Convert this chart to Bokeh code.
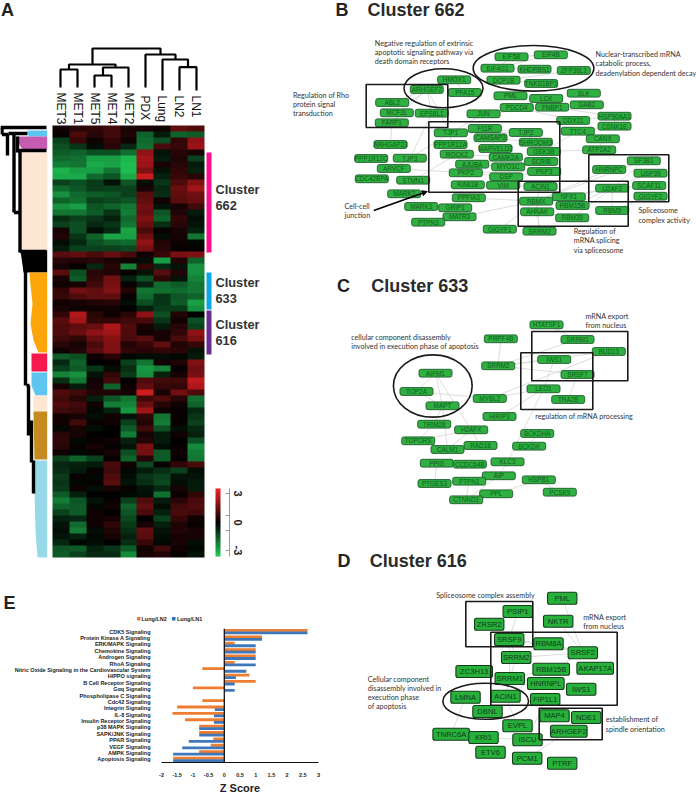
from bokeh.plotting import figure
from bokeh.layouts import column, row
from bokeh.models import (Range1d, FactorRange, LinearColorMapper, FixedTicker,
                          Arrow, NormalHead, ColumnDataSource, Span)
from bokeh.core.properties import value
from bokeh.transform import dodge
from bokeh.embed import file_html
from bokeh.resources import INLINE
import numpy as np

# ---------- Panel A data ----------
samples = ["MET3", "MET1", "MET5", "MET4", "MET2", "PDX", "Lung", "LN2", "LN1"]
heat_rows = [
 [0.2,0.5,0.6,0.8,0.3,0.3,0.2,1.2,1.0],
 [0.1,0.9,0.5,0.8,0.4,-1.5,-0.4,-1.5,-1.4],
 [-1,0.7,0.2,0.6,0.2,-1.6,-1.2,0.6,1.8],
 [-1.2,-0.8,-0.2,0.5,-0.6,-1.7,0.9,0.7,1.9],
 [-1.4,-1.5,-1.2,-1.2,-1.7,1.8,-0.3,0.5,0.3],
 [-1.6,-1.7,-2.4,-2.4,-2.8,2.0,-0.4,0.4,-1.0],
 [-1.9,-1.8,-2.6,-2.5,-2.9,1.9,0.3,0.5,-0.4],
 [-2.7,-2.4,-2.4,-1.8,-2.9,1.6,-0.3,0.6,-0.5],
 [-2.6,-2.6,-1.6,-1.3,-2.6,2.5,-0.5,0.7,0.5],
 [-1,-1.2,-0.9,-0.3,-1.3,-0.2,-0.8,1.0,1.6],
 [-1.6,-1.3,-0.9,-1,-1,0.3,-0.6,1.3,2.0],
 [-2.2,-1.6,-1.4,-1.3,-1,1.1,-0.7,1.2,1.4],
 [-1.5,-1.7,-1,-1.1,-1.3,1.2,0.2,1.1,1.3],
 [-2.2,-2.4,-1.3,-1.5,-1.8,1.4,-0.3,0.3,0.8],
 [-1.8,-1.8,-1.4,-0.8,-1.9,1.3,-1.3,0.4,-0.4],
 [-0.7,-1,-0.8,-0.5,-1.6,1.6,-1.5,0.6,-0.2],
 [-1,-1.2,-0.6,-0.8,-1.8,1.3,-0.7,0.5,-0.3],
 [0.3,-1.2,-0.2,-0.6,-2.5,0.9,0.1,0.3,-0.5],
 [0.4,-0.8,-1.5,-2.5,-2.4,1.4,-0.2,0.3,-1.8],
 [-0.2,-0.6,-1.2,-1.5,-1.6,1.8,0.4,0.2,-0.1],
 [-0.4,-1,-1,-1,-1.1,1.5,0.5,0.1,0.1],
 [1.1,1.2,0.9,1.3,0.9,0.2,0.7,1.5,1.6],
 [0.5,0.4,0.5,0.3,0.2,-0.2,-2.4,0.4,-1.5],
 [0.3,0.1,-0.6,0.5,-2,0.6,-0.6,-0.3,-2.2],
 [1.1,-1.2,0.5,0.4,0.1,-0.3,1.1,0.4,-2.2],
 [0.3,-1.4,0.6,1.4,-0.5,-1.2,0.6,-0.3,-2],
 [0.2,0.3,0.8,1.5,0.1,-0.5,-1.6,-1.4,-1.8],
 [0.6,1.4,1.2,1.6,0.4,-1.8,-1.7,-1.6,-1.8],
 [0.7,1,1.2,1.2,0.1,-1.6,-0.8,-1.3,-1.5],
 [0.2,0.3,0.4,0.5,-0.2,-1.2,-0.8,-1.4,-2.4],
 [0.3,0.2,0.2,0.2,0,-0.5,-0.9,-0.9,-2.2],
 [0.6,2.2,0.5,0.2,0.5,1.8,-1.2,0.4,0],
 [1.1,2,0.6,0.6,0.8,0.9,-0.8,0.2,-1.2],
 [1,1.2,1.3,2.2,1,0.3,-0.4,0.5,-1],
 [1,1.3,1.8,2,1,0.2,0.3,0.6,1.8],
 [0.8,0.6,1.3,1.7,0.9,1.1,0.3,0.9,1.5],
 [0.5,0.3,0.9,1.6,0.4,0.7,1.2,0.4,0.7],
 [0.2,0.4,1.1,1.6,0.6,0.5,0.6,0.5,-0.3],
 [-1.4,-1.2,0.2,0.5,-0.1,-0.2,-0.2,-0.1,-0.4],
 [-0.6,-1.5,0,0.1,-1,-1.8,0.2,0.4,1.6],
 [-1,-1.4,-0.8,-0.2,-0.7,-2.3,-2,0.1,1.4],
 [-2,-2.2,-0.3,0.6,-0.9,-2.2,-0.5,0.3,1.5],
 [-0.7,-1.8,0.2,0.8,0,1.0,0.8,0.8,2.4],
 [0.3,-0.4,0.3,-1.5,0.2,1.2,0.7,0.6,2.2],
 [1,0.8,0.4,0.4,0.3,2.6,0.3,1.4,1],
 [0.8,0.5,-0.5,-1.3,-1.8,0.8,1,0.5,-1.7],
 [1,0.8,0.2,-1.9,-2,1.3,0.5,0.2,-1.5],
 [0.8,0.7,-0.1,-0.5,-2.3,2,0.2,0.1,-0.6],
 [0.2,0.3,-0.2,0.2,-0.3,0.6,-1.8,0.1,-0.8],
 [0.2,0.8,0.1,0.2,-1,0.4,-1.9,0.1,-1],
 [-0.1,0.3,-0.2,0,-1.4,0.8,-1.2,-0.2,-0.6],
 [0.5,0.3,0,0,-1.9,0.3,-0.4,0.2,-0.5],
 [0.6,-0.1,0.1,0.2,-0.5,0.4,-0.4,0,-1.2],
 [0.5,0.1,0.3,0.1,-0.3,1.5,-0.2,0.1,-2.1],
 [0.2,-0.1,0.1,0.3,-1.2,1.4,-1.4,0.2,-1.9],
 [-1,-1.5,-1,0.1,-1.5,0.5,-1.4,0.1,-1.8],
 [-0.6,-0.5,-0.4,0.9,0.2,-1.1,0.1,0.6,0.9],
 [-0.7,-0.4,0.1,0.8,-0.1,-0.4,-0.7,-1,-0.2],
 [-0.9,0.1,-0.1,1.0,-0.2,-0.8,-1,-0.3,-0.3],
 [-0.8,-0.1,0.1,1.1,-0.3,-0.7,-1.1,-0.2,-0.4],
 [-0.9,0.2,-0.2,0.3,0.1,-0.3,-0.6,0.3,-0.4],
 [-1.4,-0.5,0,0,-0.1,-0.2,-1.7,0.1,0.6],
 [-1.9,-1.3,-0.3,0.1,-1,1,-0.4,0.5,0.9],
 [-1.5,-1.4,-0.1,0.2,-1.5,1.2,-0.2,0.8,1],
 [-1,-1.4,0.2,0,-1.3,0.9,-0.5,0.9,0.8],
 [-0.5,-0.6,0.2,0.3,-1.1,0,-1,0.7,0.2],
 [-0.3,-1.6,0.2,0.6,-0.9,0.3,-0.5,0.4,0.1],
 [-0.2,-1.9,-0.2,0.4,-0.7,1.2,-0.3,0.4,0.3],
 [-0.3,-0.5,-0.1,0.3,-0.5,1.1,-0.2,0.3,0.3],
 [-0.6,-0.1,-0.2,0,-0.7,0.7,-0.1,0.3,-0.2],
 [-1.3,-1.4,-0.5,-0.8,-1.4,0.2,0.8,0.2,-0.1],
 [-1.4,-1,-0.6,-0.6,-2.1,0.3,0.4,0.1,-0.3],
]
legend_steps = [3, 2.75, 2.5, 2.25, 2, 1.75, 1.5, 1.25, 1, 0.75, 0.5, 0.25, 0,
                -0.25, -0.5, -0.75, -1, -1.25, -1.5, -1.75, -2, -2.25, -2.5, -2.75, -3]

# sample dendrogram segments (x list, y list)
col_dendro_x = [[60,60,77,77],[94,94,111,111],[102.5,102.5,128,128],[68.5,68.5,115,115],
                [179,179,196,196],[162,162,187.5,187.5],[145,145,175,175],[92,92,160,160]]
col_dendro_y = [[87,69,69,87],[87,75,75,87],[75,67,67,87],[69,64,64,67],
                [90,66.7,66.7,90],[90,59,59,66.7],[87,54,54,59],[64,48,48,54]]
# row dendrogram trunks
row_dendro_x = [[0,46],[1.5,1.5],[1.5,8],[7,7],[8,27],[13.5,13.5],[13.5,20],[17,17],[17,46],[19.5,19.5],
                [19.5,46],[25,25],[26,29],[28,28],[31,31],[33,33]]
row_dendro_y = [[127,127],[127,134],[134,134],[134,155],[133,133],[133,212],[212,212],[136,152],[150,150],[150,252],
                [251,251],[262,385],[385,385],[385,435],[420,462],[460,493]]
band_colors = ["#5cc6f0", "#c65bb2", "#fde6d2", "#000000", "#fca60c", "#f5194f", "#5dc5ef", "#fde6d2", "#c58b20", "#97d8e9"]
band_x = [[27,46.7,46.7,28], [16,46.7,46.7,22,18], [20,46.7,46.7,20], [20,46.7,46.7,23], [29,46.7,46.7,38,33,30,32,30],
          [31,46.7,46.7,31], [31,46.7,46.7,35,31], [33,46.7,46.7,33], [33,46.7,46.7,34], [33,46.7,46.7,37,35,34]]
band_y = [[130,130,136,136], [136,136,149,149,143], [152,152,250,250], [250,250,272,272], [272,272,352,352,340,323,303,285],
          [353,353,371,371], [372,372,395,395,385], [395,395,411,411], [411,411,459,459], [460,460,557,557,530,490]]
cluster_spans = [(152, 252, "#ff0f8f"), (272, 309, "#0ca5e8"), (310, 354, "#6a2c91")]
cluster_labels = [("Cluster", 189), ("662", 205), ("Cluster", 282), ("633", 298), ("Cluster", 324), ("616", 340)]

# ---------- Panel E data ----------
pathways = ["CDK5 Signaling","Protein Kinase A Signaling","ERK/MAPK Signaling","Chemokine Signaling","Androgen Signaling",
            "RhoA Signaling","Nitric Oxide Signaling in the Cardiovascular System","HIPPO signaling","B Cell Receptor Signaling",
            "G\u03b1q Signaling","Phospholipase C Signaling","Cdc42 Signaling","Integrin Signaling","IL-8 Signaling",
            "Insulin Receptor Signaling","p38 MAPK Signaling","SAPK/JNK Signaling","PPAR Signaling","VEGF Signaling",
            "AMPK Signaling","Apoptosis Signaling"]
lung_ln2 = [2.65,1.2,0.33,1,1,0.33,-0.7,0.8,1,-1,0,-0.7,-1.5,-1.65,-1.25,-0.8,-0.8,-0.35,-0.43,-0.8,-1.63]
lung_ln1 = [2.65,1.2,1,1,1,1,0.7,0.37,0.33,0.33,0,0,-0.3,-0.33,-0.33,-0.8,-0.8,-1.13,-1.34,-1.63,-1.63]
z_ticks = [-2,-1.5,-1,-0.5,0,0.5,1,1.5,2,2.5,3]
z_tick_labels = ["-2","-1.5","-1","-0.5","0","0.5","1","1.5","2","2.5","3"]
ORANGE, BLUE = "#ed7d31", "#2e6db4"

# ---------- Networks ----------
b_names = ["EIF5B","EIF4B","EIF4G1","KHDRBS1","ZFP36L1","DCP1B","TNKS1BP1","HMOX1","ARHGEF2","PFA15","SLK","PML","LCK","GAB2",
 "ABL2","MCF2L","EPS8L1","JUN","PDCD4","FNBP1","DDX21","HSP90AA1","CSNK1E","FARP1","TJP1","F11R","TJP2","TTC4","CAMSAP3",
 "SHROOM3","CANX","ARHGAP23","PPP1R12A","MARVELD2","ATP2A2","GSK3B","PPP1R12C","TJP3","ROCK2","CAMK2A","SF3B1","SCRIB",
 "AJUBA","MYO1C","ARVCF","HNRNPC","PKP2","PKP3","USP39","DSP","CDC42BPA","STMN1","RAB1B","VIM","ACIN1","SCAF11","U2AF2",
 "MARK2","NFX1","GIGYF2","PPFIA3","RBMX","RBM15B","MARK3","GRIP1","RBM5","AHNAK","MATR3","RBM39","PTPN3","GIGYF1","SRRM2"]
b_x = [511,550.3,497,534,573.3,503,540.7,453.7,426.3,464.3,583.3,510,545.7,586.3,391.7,396.3,431.3,483,516.3,551.7,572.7,614,614,391.3,
 450.3,484.3,525.3,577.3,490,535.3,602.3,390,450,495,598.7,543.3,370.7,409.3,456.3,505.3,643.3,540.7,471.7,507.7,393.3,608.7,465.3,
 543.7,650,505.7,371.3,412.7,467.3,502.7,540,648.7,611.7,403.7,568.3,650,468.3,535.7,572,420.7,454.7,611.7,536.7,459,571.7,427.7,499.3,539]
b_y = [56.3,54.3,67.7,68.7,70,79.7,83,79.3,89,92,92.7,95.3,98,104.3,102,112.3,112.7,113.3,107,106.7,120,115.7,125.7,122.3,132.3,128,132,
 130.7,137.3,141.7,138.3,144,144,148,149.3,151,158,157.7,153.7,156.7,160.3,161,163.7,166.3,168,169,172.3,171,172.7,176.3,178.3,179.7,
 184.3,184.7,186,185,187.7,193.3,196.3,195.7,197.3,200.7,205,206,207.3,210,211.3,216.3,217.3,221.7,228.7,230.7]
b_edges = [("ARHGEF2","MCF2L"),("ARHGEF2","EPS8L1"),("ARHGEF2","FARP1"),("ARHGEF2","ABL2"),("ARHGEF2","TJP1"),("FARP1","ARHGAP23"),
 ("EPS8L1","TJP3"),("JUN","PDCD4"),("JUN","TJP1"),("JUN","FNBP1"),("PDCD4","DDX21"),("FNBP1","HSP90AA1"),("DDX21","HSP90AA1"),
 ("TJP1","F11R"),("TJP1","TJP2"),("TJP1","PPP1R12A"),("F11R","TJP2"),("TJP2","SHROOM3"),("SHROOM3","CAMSAP3"),("SHROOM3","GSK3B"),
 ("CAMSAP3","MARVELD2"),("PPP1R12A","ROCK2"),("ROCK2","CAMK2A"),("AJUBA","MYO1C"),("SCRIB","GSK3B"),("PKP2","PKP3"),("DSP","PKP2"),
 ("DSP","PKP3"),("VIM","DSP"),("RAB1B","VIM"),("VIM","ACIN1"),("CAMK2A","SCRIB"),("TTC4","CANX"),("CANX","ATP2A2"),("ATP2A2","GSK3B"),
 ("HSP90AA1","CSNK1E"),("CSNK1E","TTC4"),("TTC4","GSK3B"),("SF3B1","U2AF2"),("SF3B1","HNRNPC"),("SF3B1","RBMX"),("HNRNPC","RBMX"),("U2AF2","RBMX"),
 ("U2AF2","RBM5"),("U2AF2","NFX1"),("U2AF2","RBM15B"),("U2AF2","USP39"),("U2AF2","SCAF11"),("RBM5","GIGYF2"),("RBM39","U2AF2"),
 ("AHNAK","RBM39"),("ACIN1","RBMX"),("ACIN1","NFX1"),("RBMX","SRRM2"),("AHNAK","SRRM2"),("GIGYF1","RBMX"),("ARVCF","PKP2"),("STMN1","ROCK2"),
 ("MARK2","MARK3"),("MARK3","GRIP1"),("GRIP1","MATR3"),("MATR3","RBMX"),("PPFIA3","RBMX"),("PTPN3","MATR3"),("TJP1","TJP3"),("TJP3","ARVCF"),
 ("EIF5B","EIF4B"),("EIF4G1","EIF5B"),("EIF4G1","EIF4B"),("KHDRBS1","EIF4G1"),("DCP1B","TNKS1BP1"),("ZFP36L1","DCP1B"),("PFA15","HMOX1")]
b_rects = [(365.7,447.3,84,127),(428.3,559.3,121.3,191.7),(517.7,627.7,180.7,225.7),(588.3,668.3,154.3,201.3)]
b_ellipses = [(533,67.8,120.7,45.7),(443,87.8,79,39)]

c_names = ["HTATSF1","PRPF4B","SRRM1","BUD13","IWS1","SRRM2","AIFM1","SRSF7","LEO1","TOP2A","MYBL2","TRA2B","MAPT","HIRIP3","TRIM28",
 "H2AFX","BCKDHA","TOPORS","RAD18","BCKDK","CALM1","PPIG","CCDC64B","KLC3","AIP","HSPB1","PTGES3","PTPN1","PCSK9","PPL","CTNND1"]
c_x = [546,500.3,577,608.3,553.7,497.7,435,577,543,416,489.3,567.7,442,499,433.7,470.7,536.7,417.7,480,528.7,447,436.3,469.3,507,498.3,
 538.3,434,468.7,559.3,495.7,465.7]
c_y = [324.3,338.3,339,351,359,365.3,372.7,374,388.3,391,398,399,405.3,416,423.7,429.3,433,440.3,445,445.7,449,462.7,463.7,461.3,475.3,
 479.3,483,480.7,491.7,493.3,499.3]
c_edges = [("HTATSF1","SRRM1"),("PRPF4B","SRRM2"),("SRRM1","SRRM2"),("SRRM2","BUD13"),("IWS1","SRRM2"),("SRSF7","SRRM2"),("SRSF7","TRA2B"),
 ("LEO1","IWS1"),("LEO1","MYBL2"),("BUD13","MYBL2"),("AIFM1","MAPT"),("AIFM1","TOP2A"),("TOP2A","MYBL2"),("TOP2A","MAPT"),("MAPT","CALM1"),
 ("MAPT","TRIM28"),("AIFM1","H2AFX"),("H2AFX","TOPORS"),("TRIM28","TOPORS"),("H2AFX","CALM1"),("CALM1","RAD18"),("RAD18","H2AFX"),
 ("LEO1","HIRIP3"),("LEO1","KLC3"),("PPIG","PTGES3"),("CTNND1","PTPN1"),("CTNND1","AIP"),("PPL","HSPB1"),("HSPB1","PCSK9"),("BCKDHA","BCKDK"),
 ("PTPN1","AIP"),("AIP","KLC3")]
c_rects = [(531.3,627.3,331,380.3),(520.3,592.3,352.3,409)]
c_ellipses = [(432.3,385.5,78.7,62.3)]

d_names = ["PML","PSIP1","NKTR","ZRSR2","SRSF9","RBM8A","SRSF2","SRRM2","RBM15B","AKAP17A","ZC3H13","SRRM1","HNRNPL","IWS1","ACIN1","LMNA",
 "FIP1L1","DBNL","MAP4","NDE1","EVPL","ARHGEF2","TNRC6A","KRI1","ISCU","ETV6","PCM1","PTRF"]
d_x = [561.7,517.3,557.7,488.7,508.7,548,582.3,515.7,550.7,594.7,473.7,509.3,545.3,580.7,505,465,544.7,487,554,585.7,517,568.3,450.7,483,527,490,526.7,561.7]
d_y = [597.7,611,620.7,623.7,639,643.3,652.3,657,668.7,667.7,671,678,683,688.7,695.7,696.7,699,711,715.3,717,725.3,730.7,733.7,737,739.3,751.7,757.7,762.7]
d_edges = [("PML","SRSF2"),("NKTR","SRSF2"),("SRSF9","RBM8A"),("SRSF9","SRRM2"),("SRSF9","SRSF2"),("RBM8A","SRSF2"),("RBM8A","SRRM2"),
 ("SRRM2","SRSF2"),("SRRM2","SRRM1"),("SRSF9","SRRM1"),("SRRM1","RBM15B"),("SRRM1","HNRNPL"),("SRRM1","ACIN1"),("ACIN1","EVPL"),
 ("FIP1L1","ISCU"),("LMNA","TNRC6A"),("KRI1","ISCU"),("ARHGEF2","PCM1"),("ZC3H13","SRRM1"),("SRSF9","PSIP1"),("ACIN1","SRSF2"),("MAP4","NDE1")]
d_rects = [(465.3,532.3,601,646.3),(490.3,616.7,631.7,704.7),(538.7,601.7,707.7,739.3)]
d_ellipses = [(485.2,700.7,85.7,36)]

notes_top = [("Negative regulation of extrinsic",374.3,42.7),("apoptotic signaling pathway via",374.3,51.7),("death domain receptors",374.3,61),
 ("Nuclear-transcribed mRNA",595,54.3),("catabolic process,",595,63.3),("deadenylation dependent decay",595,72.7),
 ("Regulation of Rho",292.5,95),("protein signal",292.5,104),("transduction",292.5,113),
 ("Cell-cell",344,205.7),("junction",344,214.7),("Spliceosome",638,210.3),("complex activity",638,220),
 ("Regulation of",573.3,231.3),("mRNA splicing",573.3,240.3),("via spliceosome",573.3,250),
 ("mRNA export",585,316),("from nucleus",585,325),("cellular component disassembly",350.7,337),
 ("involved in execution phase of apoptosis",350.7,346),("regulation of mRNA processing",534.7,415.7)]
notes_bottom = [("Spliceosome complex assembly",435.7,594.7),("mRNA export",582.7,617.3),("from nucleus",582.7,626.3),
 ("Cellular component",367.3,679),("disassembly  involved in",367.3,688),("execution phase",367.3,697.3),("of apoptosis",367.3,706.3),
 ("establishment of",605.3,719.3),("spindle orientation",605.3,728.7)]

SANS = value("Liberation Sans")
NOTE = value("Lato")

def canvas(x0, x1, y0, y1):
    p = figure(width=x1-x0, height=y1-y0, x_range=Range1d(x0, x1), y_range=Range1d(y1, y0),
               x_axis_location=None, y_axis_location=None, toolbar_location=None, output_backend="svg",
               min_border=0, outline_line_color=None, frame_align=False)
    p.grid.visible = False
    return p

def texts(p, items, size, font=SANS, style="normal", color="#333333", align="left", baseline="middle", angle=0):
    p.text([i[1] for i in items], [i[2] for i in items], text=[i[0] for i in items], text_font=font,
           text_font_size=size, text_font_style=style, text_color=color, text_align=align,
           text_baseline=baseline, angle=angle)

def network(p, names, xs, ys, edges, half_w, half_h, size, fill, border, ink, radius, bw):
    pos = {n: (x, y) for n, x, y in zip(names, xs, ys)}
    p.multi_line([[pos[a][0], pos[b][0]] for a, b in edges], [[pos[a][1], pos[b][1]] for a, b in edges],
                 line_color="#d4d4d4", line_width=0.8)
    w = [half_w(n) for n in names]
    p.quad(left=[x-h for x, h in zip(xs, w)], right=[x+h for x, h in zip(xs, w)],
           top=[y-half_h for y in ys], bottom=[y+half_h for y in ys],
           fill_color=fill, line_color=border, line_width=bw, border_radius=radius)
    p.text(xs, ys, text=names, text_font=SANS, text_font_size=size, text_color=ink, text_align="center", text_baseline="middle")

def shapes(p, rects, ellipses):
    p.quad(left=[r[0] for r in rects], right=[r[1] for r in rects], top=[r[2] for r in rects], bottom=[r[3] for r in rects],
           fill_color=None, line_color="#1a1a1a", line_width=1.6)
    p.ellipse([e[0] for e in ellipses], [e[1] for e in ellipses], width=[e[2] for e in ellipses], height=[e[3] for e in ellipses],
              fill_color=None, line_color="#1a1a1a", line_width=1.6)

# ---------- Panel A ----------
pa = canvas(0, 292, 0, 572)
mapper = LinearColorMapper(palette=["#%02x%02x%02x" % (
    int(round(0x1e*(-t))) if t < 0 else int(round(0xee*t)),
    int(round(0xc4*(-t))) if t < 0 else int(round(0x20*t)),
    int(round(0x54*(-t))) if t < 0 else int(round(0x24*t))) for t in np.linspace(-1, 1, 256)], low=-3, high=3)
HEAT_L, HEAT_R, HEAT_T, HEAT_B = 52, 204, 125, 557
pa.image(image=[np.array(heat_rows, dtype=float)], x=HEAT_L, y=HEAT_T, dw=HEAT_R-HEAT_L, dh=HEAT_B-HEAT_T, color_mapper=mapper)
pa.patches(band_x, band_y, fill_color=band_colors, line_color=None)
pa.multi_line(row_dendro_x, row_dendro_y, line_color="black", line_width=3.4)
pa.multi_line(col_dendro_x, col_dendro_y, line_color="black", line_width=2.2)
step = (HEAT_R-HEAT_L)/len(samples)
texts(pa, [(s, HEAT_L+step*(i+.5), 92 if s.startswith("MET") else 95) for i, s in enumerate(samples)], "12px", angle=-np.pi/2, color="#111111")
pa.quad(left=206, right=211, top=[c[0] for c in cluster_spans], bottom=[c[1] for c in cluster_spans],
        fill_color=[c[2] for c in cluster_spans], line_color=None)
texts(pa, [(t, 215, y) for t, y in cluster_labels], "12.8px", style="bold", color="#333333")
pa.image(image=[np.array(legend_steps, dtype=float).reshape(-1, 1)], x=215, y=488, dw=5, dh=68, color_mapper=mapper)
pa.multi_line([[229,229],[225,229],[225,229],[225,229],[225,229]], [[488,556],[493,493],[515,515],[530,530],[550,550]],
              line_color="#9a9a9a", line_width=1)
texts(pa, [("3",237,493),("0",237,522),("-3",237,550)], "11px", style="bold", color="#222222", align="center", angle=-np.pi/2)
texts(pa, [("A",0.5,9)], "18px", style="bold", color="#222222")

# ---------- Networks B, C + title D ----------
pb = canvas(292, 696, 0, 572)
small = lambda n: 16.5
network(pb, b_names, b_x, b_y, b_edges, small, 3.9, "6.4px", "#2fb040", "#1f5a2c", "#0d5c1c", 2, 0.9)
network(pb, c_names, c_x, c_y, c_edges, small, 3.9, "6.4px", "#2fb040", "#1f5a2c", "#0d5c1c", 2, 0.9)
shapes(pb, b_rects + c_rects, b_ellipses + c_ellipses)
texts(pb, notes_top, "7.2px", font=NOTE)
pb.add_layout(Arrow(end=NormalHead(size=5, fill_color="black", line_color="black"), x_start=373.3, y_start=210, x_end=426.7, y_end=191,
                    line_width=1.5, line_color="black"))
texts(pb, [("B",335,9),("C",336.5,285),("D",337,560)], "18px", style="bold", color="#222222")
texts(pb, [("Cluster 662",367,9),("Cluster 633",370.7,285),("Cluster 616",369.3,560)], "18px", style="bold", color="#2a2a2a")

# ---------- Network D ----------
pd_ = canvas(330, 696, 572, 796)
wide = lambda n: 18.3 if len(n) >= 6 and n != "FIP1L1" else 14.7
network(pd_, d_names, d_x, d_y, d_edges, wide, 6, "7.6px", "#27b03a", "#143d1c", "#0f3d1a", 2, 1.1)
shapes(pd_, d_rects, d_ellipses)
texts(pd_, notes_bottom, "7.2px", font=NOTE)

# ---------- Panel E ----------
pe_head = canvas(0, 330, 572, 628)
texts(pe_head, [("E",3,602)], "18px", style="bold", color="#222222")
pe_head.quad(left=[136.5,171.5], right=[140,175], top=[616.5,616.5], bottom=[620,620], fill_color=[ORANGE,BLUE], line_color=None)
texts(pe_head, [("Lung/LN2",141,618.3),("Lung/LN1",176.5,618.3)], "5.5px", style="bold", color="#222222")

src = ColumnDataSource(dict(path=pathways, ln2=lung_ln2, ln1=lung_ln1))
pe = figure(width=330, height=168, x_range=Range1d(-2, 3), y_range=FactorRange(factors=list(reversed(pathways)), range_padding=0),
            toolbar_location=None, output_backend="svg", min_border_left=161, min_border_right=12, min_border_top=0,
            min_border_bottom=23, outline_line_color=None, frame_align=False)
pe.grid.visible = False
pe.hbar(y=dodge("path", 0.2, range=pe.y_range), left=0, right="ln2", height=0.44, source=src, fill_color=ORANGE, line_color=None)
pe.hbar(y=dodge("path", -0.2, range=pe.y_range), left=0, right="ln1", height=0.44, source=src, fill_color=BLUE, line_color=None, fill_alpha=0.92)
pe.add_layout(Span(location=0, dimension="height", line_color="#111111", line_width=1.3))
ax = pe.xaxis[0]
ax.ticker = FixedTicker(ticks=z_ticks)
ax.major_label_overrides = dict(zip(z_ticks, z_tick_labels))
ax.major_tick_line_color = None
ax.minor_tick_line_color = None
ax.axis_line_color = "#111111"
ax.axis_line_width = 1.2
ax.major_label_text_font = "Liberation Sans"
ax.major_label_text_font_size = "5.5px"
ax.major_label_text_font_style = "bold"
ax.major_label_text_color = "#222222"
ax.major_label_standoff = 4
ax.axis_label = "Z Score"
ax.axis_label_text_font = "Liberation Sans"
ax.axis_label_text_font_size = "11px"
ax.axis_label_text_font_style = "bold"
ax.axis_label_text_color = "#222222"
ax.axis_label_standoff = 2
ay = pe.yaxis[0]
ay.axis_line_color = None
ay.major_tick_line_color = None
ay.minor_tick_line_color = None
ay.major_label_text_font = "Liberation Sans"
ay.major_label_text_font_size = "5.5px"
ay.major_label_text_font_style = "bold"
ay.major_label_text_color = "#222222"
ay.major_label_standoff = 5

page = column(row(pa, pb, spacing=0), row(column(pe_head, pe, spacing=0), pd_, spacing=0), spacing=0, margin=(0, 0, 0, 0))
open("out.html", "w").write(file_html(page, INLINE))
